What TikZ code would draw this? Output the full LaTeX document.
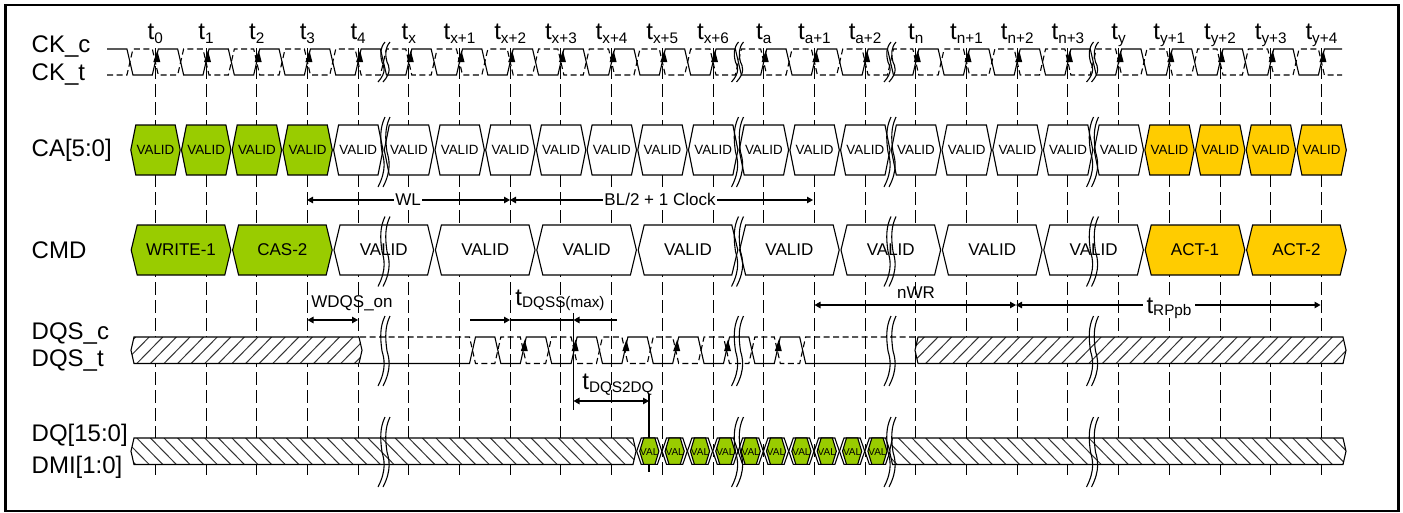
\documentclass[tikz,border=0pt]{standalone}
\usepackage{fontspec}
\setmainfont{Liberation Sans}
\usetikzlibrary{arrows.meta}
\definecolor{cgreen}{HTML}{99CC00}
\definecolor{cyellow}{HTML}{FFCC00}
\newcommand{\fs}[1]{\fontsize{#1}{#1}\selectfont}
\newcommand{\tsub}[2][4]{{\fs{24}t}\raisebox{-#1pt}{\fs{15.3}#2}}
% hexagon bus cell: cx, cy, half width, chamfer, half height, fill
\newcommand{\hexpath}[6]{\draw[busline,fill=#6] ({#1-#3},#2) -- ({#1-#3+#4},{#2-#5}) -- ({#1+#3-#4},{#2-#5}) -- ({#1+#3},#2) -- ({#1+#3-#4},{#2+#5}) -- ({#1-#3+#4},{#2+#5}) -- cycle;}
% hatched band: x0 (tip), x1 (tip), top, bottom, slope sign
\newcommand{\hatchband}[5]{%
  \fill[white] (#1,{(#3+#4)/2}) -- ({#1+3},#3) -- ({#2-3},#3) -- (#2,{(#3+#4)/2}) -- ({#2-3},#4) -- ({#1+3},#4) -- cycle;
  \begin{scope}
    \clip (#1,{(#3+#4)/2}) -- ({#1+3},#3) -- ({#2-3},#3) -- (#2,{(#3+#4)/2}) -- ({#2-3},#4) -- ({#1+3},#4) -- cycle;
    \foreach \hx in {-40,-26.4,...,1400} {
      \ifnum#5>0
        \draw[hatchline] (\hx,#4) -- ({\hx+26},#3);
      \else
        \draw[hatchline] (\hx,#3) -- ({\hx+26},#4);
      \fi
    }
  \end{scope}
  \draw[busline] ({#1+3},#3) -- (#1,{(#3+#4)/2}) -- ({#1+3},#4) -- ({#2-3},#4) -- (#2,{(#3+#4)/2}) -- ({#2-3},#3) -- cycle;}
% break mark: x, top, height
\newcommand{\brkmark}[3]{%
  \foreach \bo in {-2.5,2.5}
    \draw[breakline] ({#1+\bo+3},#2) .. controls ({#1+\bo-2},{#2+.15*#3}) and ({#1+\bo-2},{#2+.3*#3}) .. ({#1+\bo},{#2+.5*#3}) .. controls ({#1+\bo+2},{#2+.6*#3}) and ({#1+\bo+5},{#2+.75*#3}) .. ({#1+\bo-4},{#2+#3});}
\tikzset{
  busline/.style={draw=black,line width=1.1pt,line join=miter},
  hatchline/.style={draw=black!80,line width=1pt},
  breakline/.style={draw=black,line width=1.1pt},
  tickline/.style={draw=black,line width=1pt,dash pattern=on 13pt off 5pt},
  wavesolid/.style={draw=black,line width=1.1pt},
  wavedash/.style={draw=black,line width=1.1pt,dash pattern=on 6pt off 3.5pt},
  edgemark/.style={fill=black,draw=none},
  lefttext/.style={anchor=west,inner sep=0pt,font=\fs{24}},
  ticktext/.style={anchor=base,inner sep=0pt},
  catext/.style={inner sep=0pt,font=\fs{13.4}},
  cmdtext/.style={inner sep=0pt,font=\fs{17}},
  valtext/.style={inner sep=0pt,font=\fs{10}},
  dimtext/.style={inner sep=1.5pt,font=\fs{17},fill=white},
  plaintext/.style={inner sep=0pt,font=\fs{17}},
  dimline/.style={draw=black,line width=1.1pt},
  dimboth/.style={dimline,{Triangle[length=6pt,width=6.5pt]}-{Triangle[length=6pt,width=6.5pt]}},
  dimend/.style={dimline,-{Triangle[length=6pt,width=6.5pt]}},
}
\begin{document}
\begin{tikzpicture}[x=1pt,y=-1pt]
\useasboundingbox (0,0) rectangle (1403,512);
\fill[white] (0,0) rectangle (1403,512);
\draw[black,line width=2.6pt] (5.5,5) rectangle (1398.5,511);

% tick lines
\foreach \i [evaluate=\i as \c using 155.3+50.7*\i] in {0,...,23} {
  \coordinate (tt\i) at (\c,48);
  \coordinate (tb\i) at (\c,475);
  \draw[tickline] (tt\i) -- (tb\i);
}

% tick labels
\foreach \i/\s in {0/0,1/1,2/2,3/3,4/4,5/x,6/x+1,7/x+2,8/x+3,9/x+4,10/x+5,11/x+6,12/a,13/a+1,14/a+2,15/n,16/n+1,17/n+2,18/n+3,19/y,20/y+1,21/y+2,22/y+3,23/y+4}
  \node[ticktext] (tl\i) at ({155.3+50.7*\i},39) {\tsub{\s}};

% signal names
\node[lefttext] (nckc) at (31.5,47) {CK\_c};
\node[lefttext] (nckt) at (31.5,75) {CK\_t};
\node[lefttext] (nca) at (31.5,150) {CA[5:0]};
\node[lefttext] (ncmd) at (31.5,250) {CMD};
\node[lefttext] (ndqsc) at (31.5,333) {DQS\_c};
\node[lefttext] (ndqst) at (31.5,360) {DQS\_t};
\node[lefttext] (ndq) at (31.5,435) {DQ[15:0]};
\node[lefttext] (ndmi) at (31.5,467) {DMI[1:0]};

% CK waveforms
\draw[wavedash] (107,75) \foreach \i [evaluate=\i as \c using 155.3+50.7*\i] in {0,...,23} { -- ({\c-28.35},75) -- ({\c-22.35},49) -- ({\c-3},49) -- ({\c+3},75) } -- (1342,75);
\draw[wavesolid] (107,49) \foreach \i [evaluate=\i as \c using 155.3+50.7*\i] in {0,...,23} { -- ({\c-28.35},49) -- ({\c-22.35},75) -- ({\c-3},75) -- ({\c+3},49) } -- (1342,49);
\foreach \i [evaluate=\i as \c using 155.3+50.7*\i] in {0,...,23}
  \fill[edgemark] ({\c+2},50.5) -- ({\c+5},62) -- ({\c-2},62) -- cycle;

% CA bus
\foreach \i [evaluate=\i as \c using 155.5+50.7*\i, evaluate=\i as \k using int(\i<4 ? 1 : (\i>19 ? 2 : 0))] in {0,...,23} {
  \ifnum\k=1 \hexpath{\c}{150}{24.7}{5}{25}{cgreen}\fi
  \ifnum\k=2 \hexpath{\c}{150}{24.7}{5}{25}{cyellow}\fi
  \ifnum\k=0 \hexpath{\c}{150}{24.7}{5}{25}{white}\fi
  \node[catext] (ca\i) at (\c,150) {VALID};
}

% CMD bus
\foreach \j/\txt/\col in {0/WRITE-1/cgreen,1/CAS-2/cgreen,2/VALID/white,3/VALID/white,4/VALID/white,5/VALID/white,6/VALID/white,7/VALID/white,8/VALID/white,9/VALID/white,10/ACT-1/cyellow,11/ACT-2/cyellow} {
  \pgfmathsetmacro\c{181+101.4*\j}
  \hexpath{\c}{250}{49.8}{6}{25}{\col}
  \node[cmdtext] (cmd\j) at (\c,250) {\txt};
}

% DQS band
\draw[wavedash] (360,337) -- (469.5,337) \foreach \k [evaluate=\k as \r using 472.5+50.8*\k] in {0,...,6} { -- ({\r-3},337) -- ({\r+3},363.5) -- ({\r+22.35},363.5) -- ({\r+28.35},337) } -- (915,337);
\draw[wavesolid] (360,363.5) -- (469.5,363.5) \foreach \k [evaluate=\k as \r using 472.5+50.8*\k] in {0,...,6} { -- ({\r-3},363.5) -- ({\r+3},337) -- ({\r+22.35},337) -- ({\r+28.35},363.5) } -- (915,363.5);
\foreach \k [evaluate=\k as \r using 472.5+50.8*\k] in {1,...,6}
  \fill[edgemark] ({\r+1.5},339.5) -- ({\r+4.5},351) -- ({\r-2.5},351) -- cycle;
\hatchband{131}{362}{337}{363.5}{1}
\hatchband{915}{1346}{337}{363.5}{1}

% DQ band
\hatchband{131}{636}{438}{464.5}{-1}
\hatchband{889.5}{1346}{438}{464.5}{-1}
\foreach \j [evaluate=\j as \c using 649.3+25.35*\j] in {0,...,9} {
  \hexpath{\c}{451.2}{12.6}{4.5}{13.2}{white}
  \hexpath{\c}{451.2}{9.6}{4}{13.2}{cgreen}
  \node[valtext] (dq\j) at (\c,452) {VAL};
}

% break marks
\foreach \bx in {384.5,738,890.5,1093} {
  \brkmark{\bx}{42}{40}
  \brkmark{\bx}{117}{70}
  \brkmark{\bx}{216.5}{70}
  \brkmark{\bx}{316}{70}
  \brkmark{\bx}{417}{70}
}

% dimension lines
\coordinate (wl0) at (307,200); \coordinate (wl1) at (510,200); \coordinate (bl1) at (813,200);
\draw[dimboth] (wl0) -- (wl1);
\draw[dimboth] (wl1) -- (bl1);
\node[dimtext] (wltxt) at (408,199.5) {WL};
\node[dimtext] (bltxt) at (660,199.5) {BL/2 + 1 Clock};

\coordinate (wq0) at (307.5,320); \coordinate (wq1) at (358,320);
\draw[dimboth] (wq0) -- (wq1);
\node[plaintext] (wqtxt) at (352,303.5) {WDQS\_on};

\coordinate (ss0) at (470,320); \coordinate (ss1) at (510,320); \coordinate (ss2) at (573.5,320); \coordinate (ss3) at (617,320);
\draw[dimline] (ss1) -- (ss2);
\draw[dimend] (ss0) -- (ss1);
\draw[dimend] (ss3) -- (ss2);
\coordinate (sv0) at (573.5,313); \coordinate (sv1) at (573.5,410);
\draw[dimline] (sv0) -- (sv1);
\node[ticktext] (sstxt) at (560,305) {\tsub[2]{DQSS(max)}};

\coordinate (dd0) at (573.5,401); \coordinate (dd1) at (649,401);
\draw[dimboth] (dd0) -- (dd1);
\coordinate (dv0) at (649,394); \coordinate (dv1) at (649,438); \coordinate (dv2) at (649,472);
\draw[dimline] (dv0) -- (dv1);
\draw[dimline] (649,464.5) -- (dv2);
\node[ticktext] (ddtxt) at (618,389) {\tsub[3]{DQS2DQ}};

\coordinate (nw0) at (814.5,305); \coordinate (nw1) at (1016,305); \coordinate (rp1) at (1320.5,305);
\draw[dimboth] (nw0) -- (nw1);
\draw[dimboth] (nw1) -- (rp1);
\node[plaintext] (nwtxt) at (916,293) {nWR};
\node[ticktext,fill=white,inner xsep=4pt,inner ysep=0pt] (rptxt) at (1169,313) {\tsub[2]{RPpb}};
\end{tikzpicture}
\end{document}
